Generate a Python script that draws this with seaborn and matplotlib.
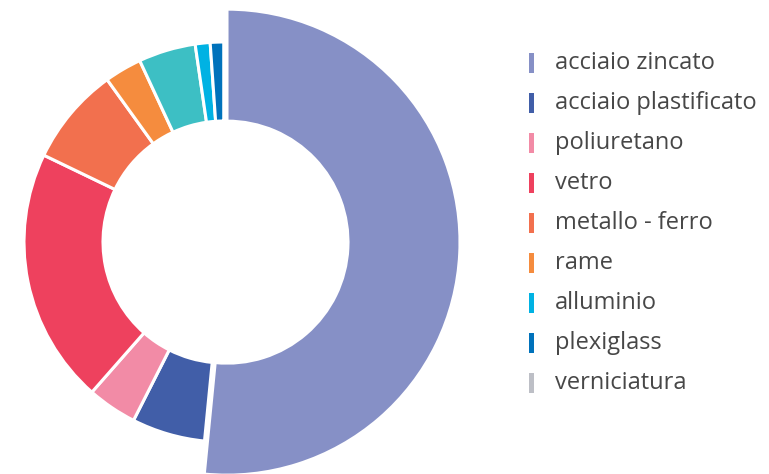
import matplotlib
matplotlib.use("Agg")
import matplotlib.pyplot as plt
from matplotlib.patches import Rectangle
import seaborn as sns

sns.set_theme(style="white")
plt.rcParams["font.family"] = ["Open Sans", "DejaVu Sans"]

# Share of each material (percent), in drawing order, clockwise from the top
categories = ["acciaio zincato", "acciaio plastificato", "poliuretano", "vetro",
              "metallo - ferro", "rame", "altro", "alluminio", "plexiglass",
              "verniciatura"]
values = [51.4, 5.9, 4.0, 20.6, 7.9, 3.0, 4.6, 1.2, 1.1, 0.0]
colors = ["#8690C6", "#415EA8", "#F28BA6", "#EE415E", "#F2704E",
          "#F58C3E", "#3DBFC4", "#00B2E3", "#0072BB", "#BDBFC6"]

# Entries listed in the legend
legend_labels = ["acciaio zincato", "acciaio plastificato", "poliuretano", "vetro",
                 "metallo - ferro", "rame", "alluminio", "plexiglass", "verniciatura"]

palette = sns.color_palette(colors)

W, H = 769, 474
fig = plt.figure(figsize=(W / 100, H / 100), dpi=100)

# square axes: 1 data unit = 200 px, ring centred at (224, 242) px from top-left
size = 480
cx, cy = 224, 242
ax = fig.add_axes([(cx - size / 2) / W, (H - cy - size / 2) / H, size / W, size / H])

inner = 121 / 200
edge = dict(edgecolor="white", linewidth=2.2)

# ring of all the smaller slices
ring_colors = ["none"] + list(palette[1:])
ax.pie(values, colors=ring_colors, startangle=90, counterclock=False,
       radius=1.0, wedgeprops=dict(width=1.0 - inner, **edge))

# the leading slice, drawn wider and pulled slightly out
lead_colors = [palette[0]] + ["none"] * (len(values) - 1)
wedges, _ = ax.pie(values, colors=lead_colors, startangle=90, counterclock=False,
                   radius=1.165, explode=[0.015] + [0] * (len(values) - 1),
                   wedgeprops=dict(width=1.165 - inner, **edge))
for w in wedges[1:]:
    w.set_edgecolor("none")

ax.set_xlim(-1.2, 1.2)
ax.set_ylim(-1.2, 1.2)
ax.set_aspect("equal")
ax.axis("off")

# legend: small vertical bars with labels
color_of = dict(zip(categories, colors))
row0, step = 63, 40
for i, lab in enumerate(legend_labels):
    yc = row0 + i * step
    fig.add_artist(Rectangle((529 / W, (H - yc - 10) / H), 5 / W, 20 / H,
                             transform=fig.transFigure, color=color_of[lab], lw=0))
    fig.text(555 / W, (H - yc) / H, lab, fontsize=17, color="#474747",
             va="center", ha="left")

fig.savefig("out.png", dpi=100)
